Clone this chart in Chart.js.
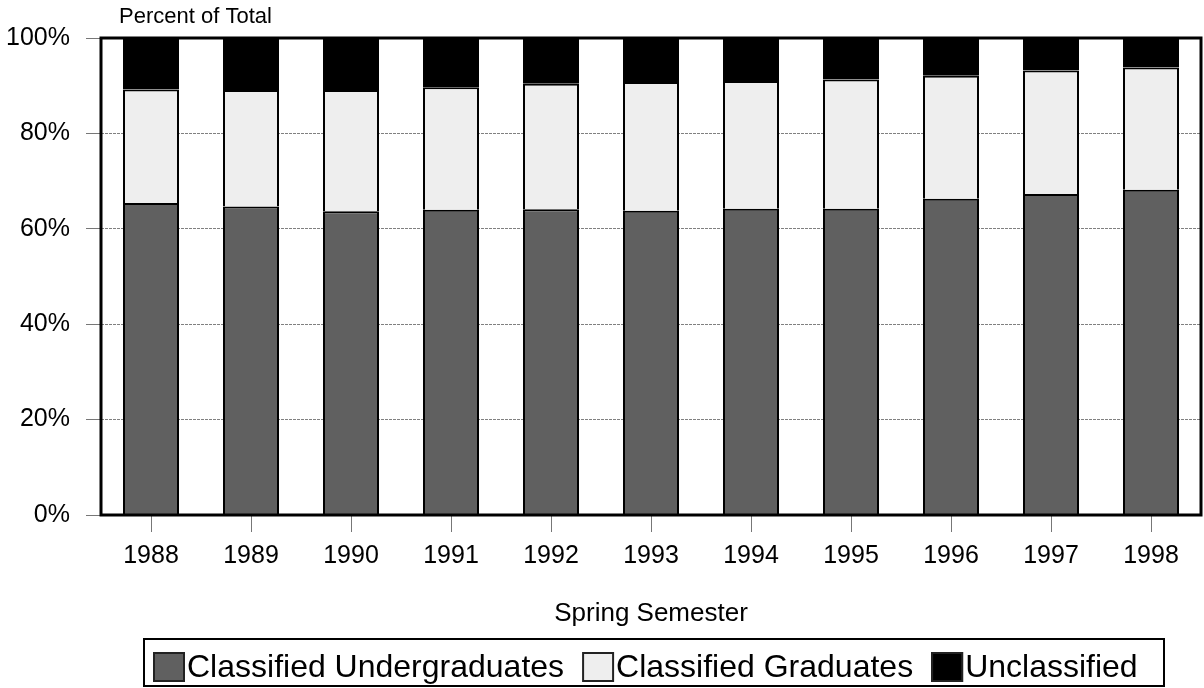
<!DOCTYPE html>
<html>
<head>
<meta charset="utf-8">
<script src="https://cdn.jsdelivr.net/npm/chart.js@4.4.1/dist/chart.umd.min.js"></script>
<style>
  html, body { margin: 0; padding: 0; background: #fff; }
  #wrap { width: 1204px; height: 688px; }
</style>
</head>
<body>
<div id="wrap"><canvas id="chart" width="1204" height="688"></canvas></div>
<script>
/* Enrollment mix by spring semester, percent of total */

const YEARS = ['1988', '1989', '1990', '1991', '1992', '1993', '1994', '1995', '1996', '1997', '1998'];
const UNDERGRADS   = [65.4, 64.7, 63.7, 64.0, 64.1, 63.8, 64.2, 64.2, 66.3, 67.3, 68.2];
const GRADUATES    = [23.8, 24.4, 25.4, 25.7, 26.3, 27.0, 26.8, 27.1, 25.8, 25.9, 25.6];
const UNCLASSIFIED = [10.8, 10.9, 10.9, 10.3,  9.6,  9.2,  9.0,  8.7,  7.9,  6.8,  6.2];
const Y_TICKS = [0, 20, 40, 60, 80, 100];

const FONT = 'Liberation Sans, Arial, sans-serif';
Chart.defaults.font.family = FONT;
Chart.defaults.color = '#000';

// frame around the plot area, y title at top, boxed legend at the bottom
const decorations = {
  id: 'decorations',
  afterDatasetsDraw(chart) {
    const { ctx, chartArea: a } = chart;
    ctx.save();
    ctx.strokeStyle = '#000';
    ctx.lineWidth = 3;
    ctx.strokeRect(a.left, a.top, a.right - a.left, a.bottom - a.top);
    ctx.restore();
  },
  afterDraw(chart) {
    const { ctx } = chart;
    ctx.save();
    ctx.fillStyle = '#000';
    ctx.font = '22px ' + FONT;
    ctx.textBaseline = 'alphabetic';
    ctx.fillText('Percent of Total', 119, 23);

    // legend
    ctx.lineWidth = 2;
    ctx.strokeStyle = '#000';
    ctx.strokeRect(144, 639, 1020, 47);
    ctx.font = '32px ' + FONT;
    let x = 153;
    chart.data.datasets.forEach(ds => {
      ctx.fillStyle = ds.backgroundColor;
      ctx.fillRect(x, 652, 32, 30);
      ctx.lineWidth = 2;
      ctx.strokeStyle = '#222';
      ctx.strokeRect(x + 1, 653, 30, 28);
      x += 34;
      ctx.fillStyle = '#000';
      ctx.fillText(ds.label, x, 677);
      x += ctx.measureText(ds.label).width + 18;
    });
    ctx.restore();
  },
};

const common = { borderColor: '#000', borderWidth: 2, barPercentage: 0.56, categoryPercentage: 1.0 };

new Chart(document.getElementById('chart'), {
  type: 'bar',
  data: {
    labels: YEARS,
    datasets: [
      { label: 'Classified Undergraduates', data: UNDERGRADS, backgroundColor: '#606060', ...common },
      { label: 'Classified Graduates', data: GRADUATES, backgroundColor: '#eeeeee', ...common },
      { label: 'Unclassified', data: UNCLASSIFIED, backgroundColor: '#000000', ...common },
    ],
  },
  options: {
    responsive: false,
    animation: false,
    layout: { padding: { left: 0, right: 3, top: 38, bottom: 59 } },
    plugins: {
      legend: { display: false },
      tooltip: { enabled: false },
    },
    scales: {
      x: {
        stacked: true,
        border: { display: false },
        grid: {
          offset: false,
          drawOnChartArea: false,
          tickLength: 17,
          tickColor: '#777',
          tickWidth: 1,
        },
        ticks: { padding: 9, font: { size: 25 }, color: '#000', maxRotation: 0 },
        title: { display: true, text: 'Spring Semester', font: { size: 26 }, color: '#000', padding: 0 },
        afterFit: s => { s.height = 114; },
      },
      y: {
        stacked: true,
        min: 0,
        max: 100,
        border: { display: false, dash: [3, 1] },
        grid: {
          color: '#808080',
          lineWidth: 1,
          tickLength: 15,
          tickColor: '#777',
          tickBorderDash: [],
        },
        afterBuildTicks: s => { s.ticks = Y_TICKS.map(v => ({ value: v })); },
        ticks: { padding: 16, font: { size: 25 }, color: '#000', callback: v => v + '%' },
        afterFit: s => { s.width = 101; },
      },
    },
  },
  plugins: [decorations],
});
</script>
</body>
</html>
